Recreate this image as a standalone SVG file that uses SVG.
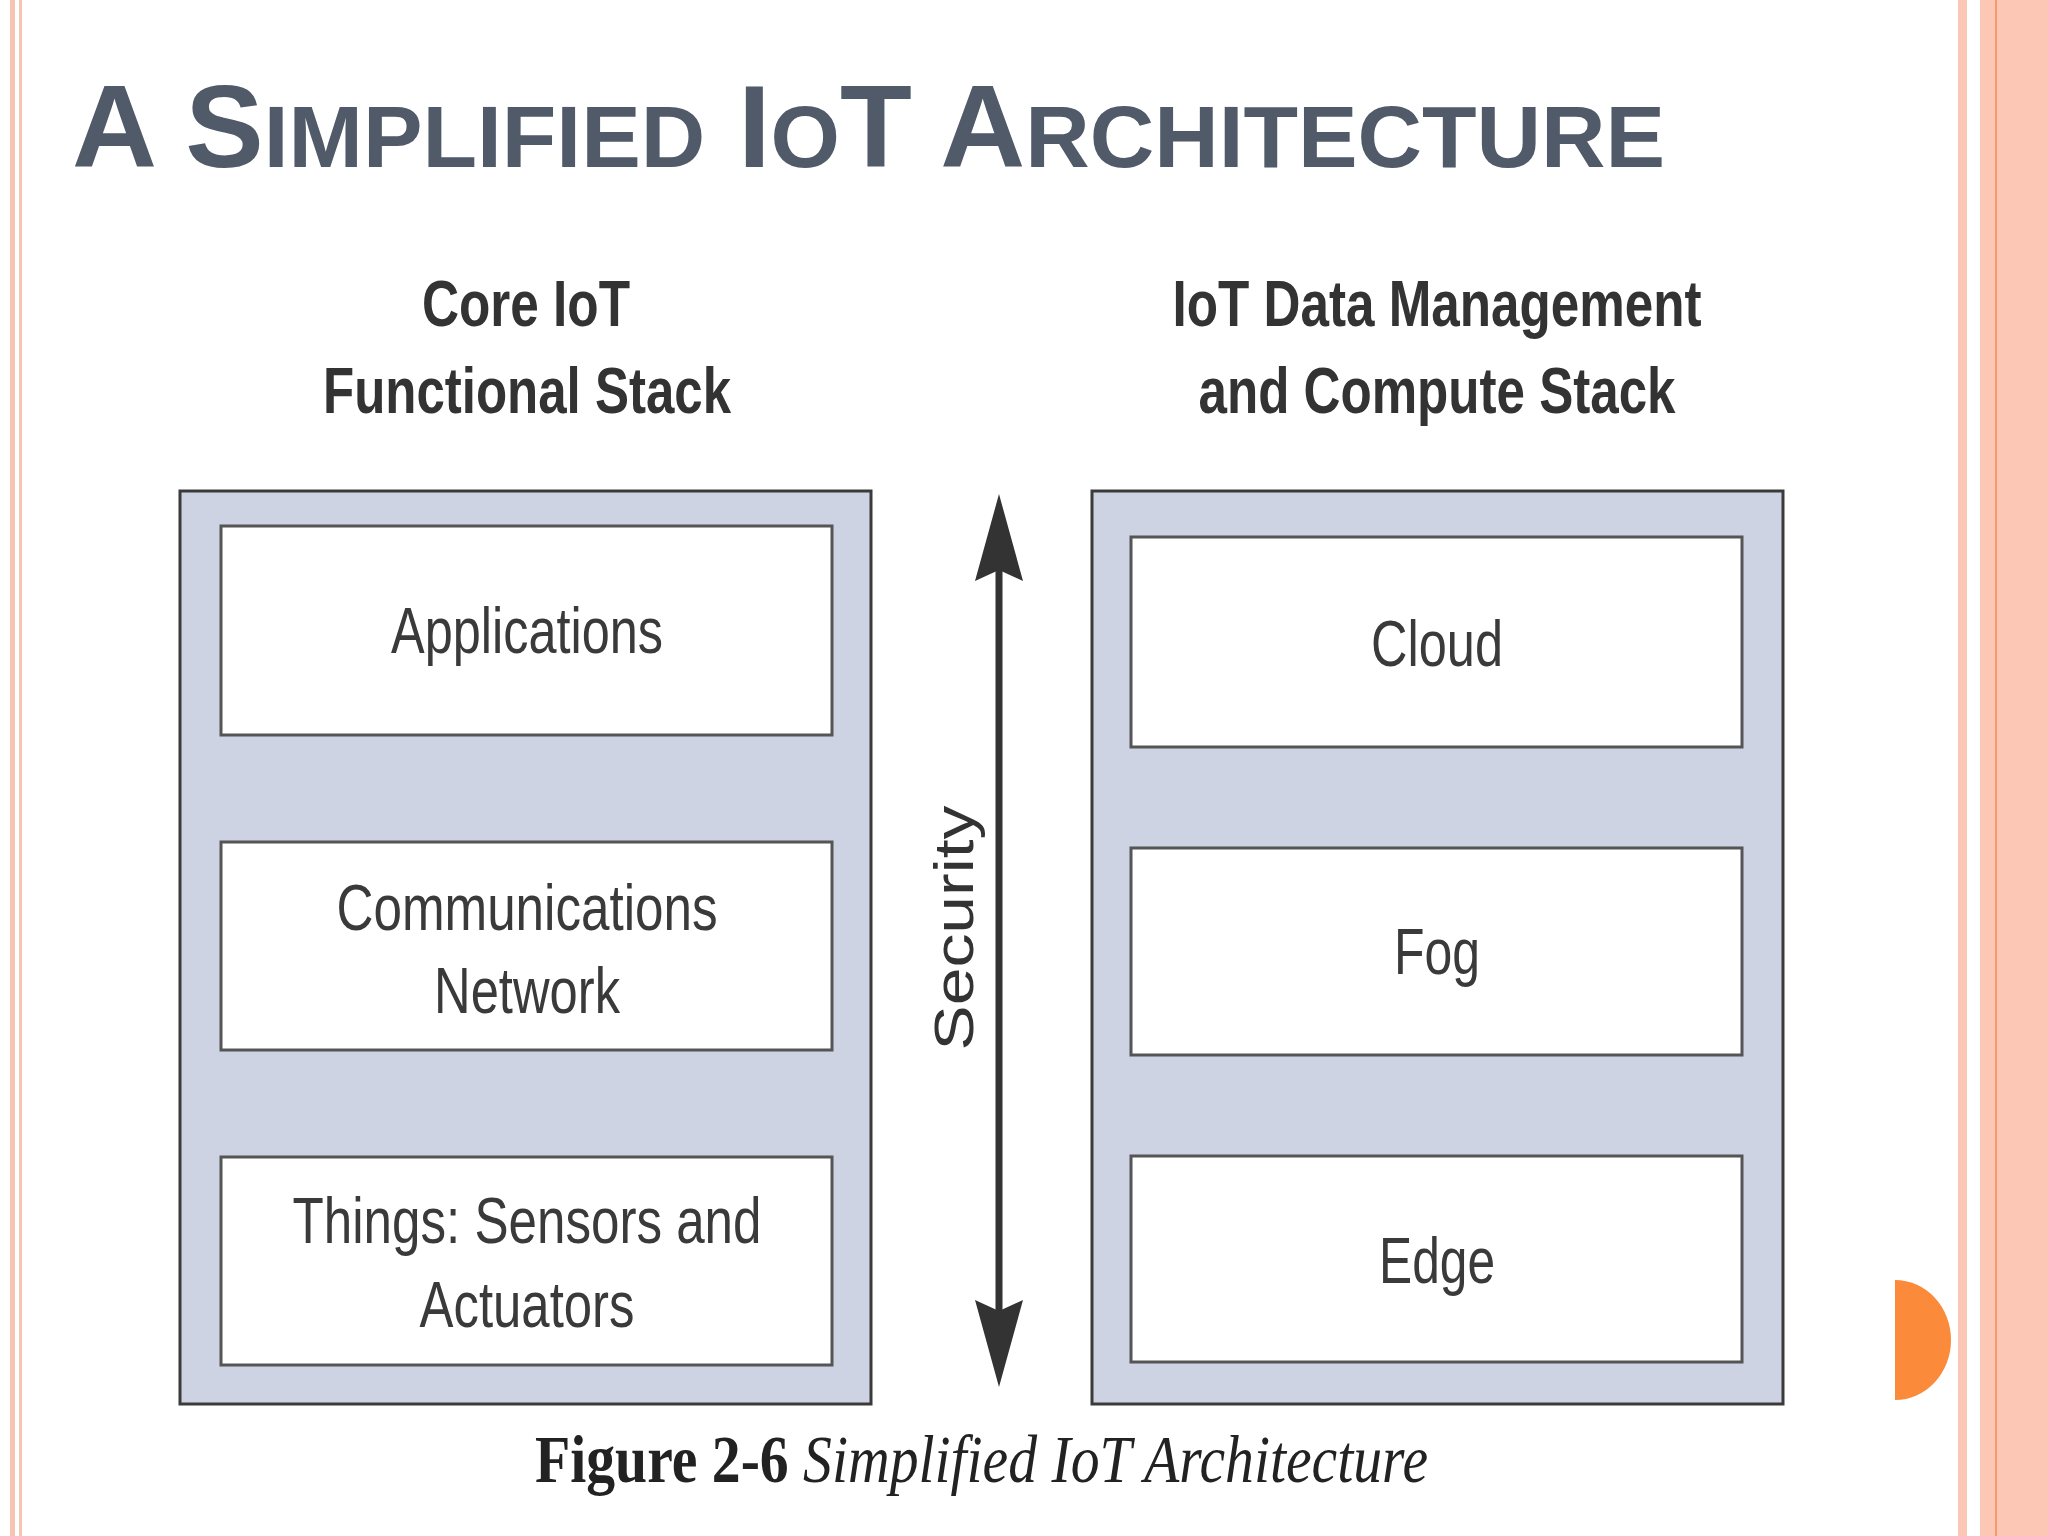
<svg xmlns="http://www.w3.org/2000/svg" width="2048" height="1536" viewBox="0 0 2048 1536">
<style>
.outer{fill:#cdd3e2;stroke:#3a3a3a;stroke-width:3}
.inner{fill:#fff;stroke:#555;stroke-width:3}
.lbl{font-family:"Liberation Sans",Arial,sans-serif;font-size:64px;fill:#3a3a3a;text-anchor:middle}
.hd{font-family:"Liberation Sans",Arial,sans-serif;font-size:64px;font-weight:bold;fill:#333;text-anchor:middle}
</style>
<rect width="2048" height="1536" fill="#fff"/>
<rect x="10" y="0" width="5" height="1536" fill="#f8c3b0"/>
<rect x="19" y="0" width="3" height="1536" fill="#f8c3b0"/>
<rect x="1958" y="0" width="9" height="1536" fill="#fcc8b5"/>
<rect x="1980" y="0" width="68" height="1536" fill="#fcc8b5"/>
<rect x="1995" y="0" width="2" height="1536" fill="#f59a6e"/>
<path d="M1895 1280 A56 60 0 0 1 1895 1400 Z" fill="#fb8a3a"/>
<text x="72" y="167" font-family="Liberation Sans,Arial,sans-serif" font-weight="bold" fill="#505a68" font-size="116" textLength="1593" lengthAdjust="spacingAndGlyphs">A S<tspan font-size="88">IMPLIFIED</tspan> I<tspan font-size="88">O</tspan>T A<tspan font-size="88">RCHITECTURE</tspan></text>
<g id="headings">
<text class="hd" x="526" y="326" textLength="208" lengthAdjust="spacingAndGlyphs">Core IoT</text>
<text class="hd" x="527" y="413" textLength="408" lengthAdjust="spacingAndGlyphs">Functional Stack</text>
<text class="hd" x="1437" y="326" textLength="529" lengthAdjust="spacingAndGlyphs">IoT Data Management</text>
<text class="hd" x="1437" y="413" textLength="477" lengthAdjust="spacingAndGlyphs">and Compute Stack</text>
</g>
<g id="left-stack"><rect class="outer" x="180" y="491" width="691" height="913"/></g>
<g id="applications"><rect class="inner" x="221" y="526" width="611" height="209"/>
<text class="lbl" x="527" y="653" textLength="272" lengthAdjust="spacingAndGlyphs">Applications</text></g>
<g id="communications"><rect class="inner" x="221" y="842" width="611" height="208"/>
<text class="lbl" x="527" y="930" textLength="381" lengthAdjust="spacingAndGlyphs">Communications</text>
<text class="lbl" x="527" y="1013" textLength="186" lengthAdjust="spacingAndGlyphs">Network</text></g>
<g id="things"><rect class="inner" x="221" y="1157" width="611" height="208"/>
<text class="lbl" x="527" y="1243" textLength="469" lengthAdjust="spacingAndGlyphs">Things: Sensors and</text>
<text class="lbl" x="527" y="1327" textLength="215" lengthAdjust="spacingAndGlyphs">Actuators</text></g>
<g id="right-stack"><rect class="outer" x="1092" y="491" width="691" height="913"/></g>
<g id="cloud"><rect class="inner" x="1131" y="537" width="611" height="210"/>
<text class="lbl" x="1437" y="666" textLength="132" lengthAdjust="spacingAndGlyphs">Cloud</text></g>
<g id="fog"><rect class="inner" x="1131" y="848" width="611" height="207"/>
<text class="lbl" x="1437" y="974" textLength="86" lengthAdjust="spacingAndGlyphs">Fog</text></g>
<g id="edge"><rect class="inner" x="1131" y="1156" width="611" height="206"/>
<text class="lbl" x="1437" y="1283" textLength="116" lengthAdjust="spacingAndGlyphs">Edge</text></g>
<g id="connectors">
<line x1="999" y1="560" x2="999" y2="1320" stroke="#333" stroke-width="7"/>
<path d="M999 494 L1023 581 L999 570 L975 581 Z" fill="#333"/>
<path d="M999 1387 L1023 1300 L999 1311 L975 1300 Z" fill="#333"/>
</g>
<text x="0" y="0" transform="translate(973 928) rotate(-90)" font-family="Liberation Sans,Arial,sans-serif" font-size="56" fill="#333" text-anchor="middle" textLength="245" lengthAdjust="spacingAndGlyphs">Security</text>
<text x="535" y="1482" font-family="Liberation Serif,Times New Roman,serif" font-size="68" fill="#222" textLength="893" lengthAdjust="spacingAndGlyphs"><tspan font-weight="bold">Figure 2-6</tspan><tspan font-style="italic"> Simplified IoT Architecture</tspan></text>
</svg>
